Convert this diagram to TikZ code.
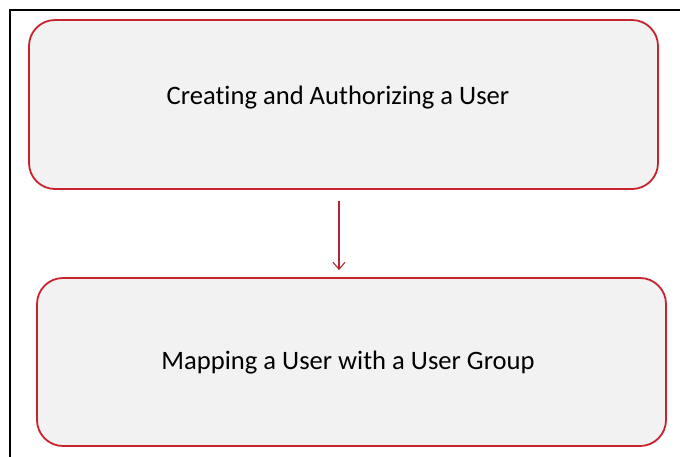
\documentclass[tikz,border=0pt]{standalone}
\usepackage{fontspec}
\setmainfont{Carlito}[Ligatures=NoCommon]
\usetikzlibrary{arrows.meta,positioning}
\definecolor{boxred}{RGB}{200,35,45}
\definecolor{boxfill}{RGB}{242,242,242}
\definecolor{linkred}{RGB}{175,40,50}

\begin{document}
\begin{tikzpicture}[x=1pt,y=-1pt]
    \tikzset{
        stepbox/.style  =   { rectangle
                            , rounded corners=26pt
                            , draw=boxred
                            , fill=boxfill
                            , line width=1.8pt
                            }
        , txt/.style    =   { font=\fontsize{26.6}{30}\selectfont
                            , text=black
                            }
        , link/.style   =   { draw=linkred
                            , line width=1.1pt
                            , -{Straight Barb[length=7pt,width=12pt]}
                            , shorten >= 7pt
                            , shorten <= 11pt
                            }
        , frame/.style  =   { line width=2pt
                            , black
                            }
    }
    \useasboundingbox (0,0) rectangle (680,456);
    \draw[frame] (10,457) -- (10,10) -- (681,10);

    \node(create)[stepbox, minimum width=629pt, minimum height=169pt] at (343.5,104.5) {};
    \node(createtxt)[txt] at ([xshift=-5.5pt,yshift=6.5pt]create.center) {Creating and Authorizing a User};
    \node(map)[stepbox, minimum width=629pt, minimum height=168pt] at (351.5,362) {};
    \node(maptxt)[txt] at ([xshift=-3.5pt,yshift=-1pt]map.center) {Mapping a User with a User Group};

    \coordinate(ax) at (339,0);
    \draw[link] (create.south -| ax) -- (map.north -| ax);
\end{tikzpicture}
\end{document}
